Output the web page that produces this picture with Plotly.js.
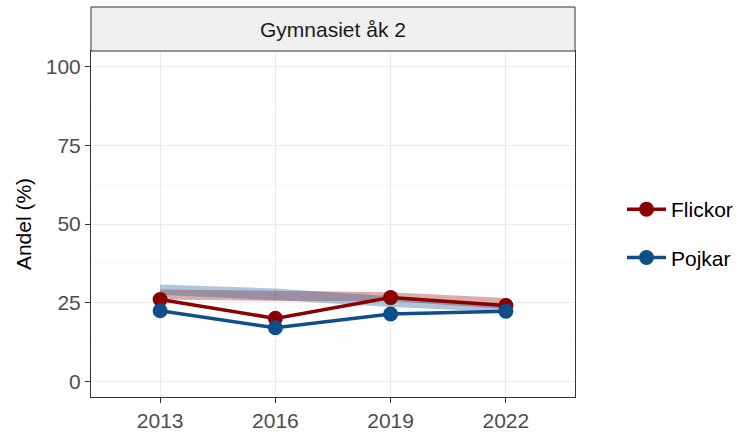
<!DOCTYPE html>
<html>
<head>
<meta charset="utf-8">
<script src="https://cdn.plot.ly/plotly-3.0.1.min.js"></script>
<style>html,body{margin:0;padding:0;background:#fff;}#chart{width:746px;height:435px;}</style>
</head>
<body>
<div id="chart"></div>
<script>
// Data
var years = ['2013', '2016', '2019', '2022'];
var flickor = [26.0, 20.0, 26.6, 24.1];
var pojkar = [22.4, 17.0, 21.4, 22.3];
// comparison bands (shaded ribbons)
var flickorLow = [26.0, 25.5, 25.5, 23.0];
var flickorHigh = [29.2, 28.7, 28.3, 26.5];
var pojkarLow = [27.5, 25.8, 23.6, 22.0];
var pojkarHigh = [30.8, 29.5, 27.0, 24.4];
var facetTitle = 'Gymnasiet åk 2';

var red = '#8B0000';
var blue = '#104E8B';
var font = 'Liberation Sans, Arial, sans-serif';
var fs = 21;

var traces = [
  {x: years, y: flickorLow, mode: 'lines', line: {width: 0, color: red}, showlegend: false, hoverinfo: 'skip'},
  {x: years, y: flickorHigh, mode: 'lines', line: {width: 0, color: red}, fill: 'tonexty', fillcolor: 'rgba(139,0,0,0.32)', showlegend: false, hoverinfo: 'skip'},
  {x: years, y: pojkarLow, mode: 'lines', line: {width: 0, color: blue}, showlegend: false, hoverinfo: 'skip'},
  {x: years, y: pojkarHigh, mode: 'lines', line: {width: 0, color: blue}, fill: 'tonexty', fillcolor: 'rgba(16,78,139,0.32)', showlegend: false, hoverinfo: 'skip'},
  {x: years, y: flickor, name: 'Flickor', mode: 'lines+markers', line: {color: red, width: 3.5}, marker: {color: red, size: 15}, legendgroup: 'f'},
  {x: years, y: pojkar, name: 'Pojkar', mode: 'lines+markers', line: {color: blue, width: 3.5}, marker: {color: blue, size: 15}, legendgroup: 'p'}
];

var stripH = 44 / 346;
var layout = {
  width: 746, height: 435,
  margin: {l: 91, r: 171, t: 51, b: 38, autoexpand: false},
  paper_bgcolor: '#fff', plot_bgcolor: '#fff',
  font: {family: font, size: fs, color: '#4D4D4D'},
  xaxis: {
    type: 'category', range: [-0.6, 3.6],
    showgrid: true, gridcolor: '#EBEBEB', gridwidth: 1,
    ticks: 'outside', ticklen: 5, tickcolor: '#333333', tickwidth: 1,
    showline: true, mirror: true, linecolor: '#333333', linewidth: 1,
    tickfont: {family: font, size: fs, color: '#4D4D4D'},
    zeroline: false, fixedrange: true
  },
  yaxis: {
    range: [-5, 105],
    tickvals: [0, 25, 50, 75, 100],
    showgrid: true, gridcolor: '#EBEBEB', gridwidth: 1,
    minor: {tickvals: [12.5, 37.5, 62.5, 87.5], showgrid: true, gridcolor: '#F3F3F3', gridwidth: 0.6, ticks: ''},
    ticks: 'outside', ticklen: 5, tickcolor: '#333333', tickwidth: 1,
    showline: true, mirror: true, linecolor: '#333333', linewidth: 1,
    tickfont: {family: font, size: fs, color: '#4D4D4D'},
    title: {text: 'Andel (%)', font: {family: font, size: fs, color: '#000'}, standoff: 8},
    zeroline: false, fixedrange: true
  },
  shapes: [
    {type: 'rect', xref: 'paper', yref: 'paper', x0: 0, x1: 1, y0: 1, y1: 1 + stripH,
     fillcolor: '#F0F0F0', line: {color: '#333333', width: 1}}
  ],
  annotations: [
    {text: facetTitle, xref: 'paper', yref: 'paper', x: 0.5, y: 1 + stripH / 2,
     showarrow: false, xanchor: 'center', yanchor: 'middle',
     font: {family: font, size: fs, color: '#1A1A1A'}}
  ],
  legend: {
    xref: 'container', yref: 'container',
    x: 622 / 746, y: 1 - 233.5 / 435, xanchor: 'left', yanchor: 'middle',
    font: {family: font, size: fs, color: '#000'},
    itemwidth: 39,
    tracegroupgap: 18, traceorder: 'grouped',
    bgcolor: 'rgba(0,0,0,0)'
  },
  showlegend: true
};

Plotly.newPlot('chart', traces, layout, {staticPlot: true, displayModeBar: false});
</script>
</body>
</html>
